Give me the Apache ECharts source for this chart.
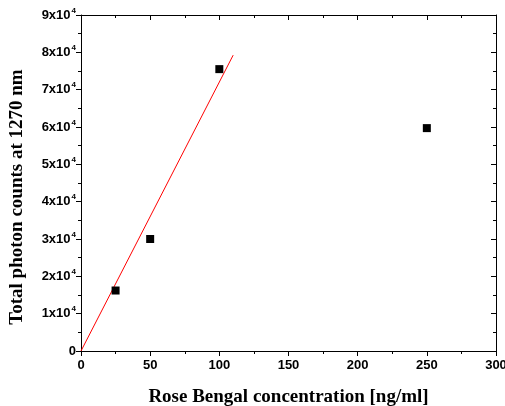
<!DOCTYPE html>
<html>
<head>
<meta charset="utf-8">
<script src="https://cdn.jsdelivr.net/npm/echarts@6/dist/echarts.min.js"></script>
<style>
  html, body { margin: 0; padding: 0; background: #fff; }
  #chart { width: 505px; height: 406px; }
</style>
</head>
<body>
<div id="chart"></div>
<script>
// Measured photon counts versus Rose Bengal concentration
const concentration = [25, 50, 100, 250];
const photonCounts = [16200, 30000, 75500, 59700];

// Linear fit through the origin (end points of the fitted segment)
const fitX = [0, 110];
const fitY = [0, 79240];

// Axis ranges and tick spacing
const xMin = 0, xMax = 300, xStep = 50;
const yMin = 0, yMax = 90000, yStep = 10000;

const xTitle = 'Rose Bengal concentration [ng/ml]';
const yTitle = 'Total photon counts at 1270 nm';

const chart = echarts.init(document.getElementById('chart'), null, { renderer: 'canvas' });

const black = '#000';
const tickFont = { fontFamily: 'Liberation Sans, Arial, sans-serif', fontWeight: 'bold', fontSize: 13, color: black };

function yLabel(v) {
  if (v === 0) return '{b|0}';
  return '{b|' + Math.round(v / 10000) + 'x10}{s|4}';
}

const outer = { show: true, inside: false, length: 5, lineStyle: { color: black, width: 1 } };
const outerMinor = { show: true, splitNumber: 2, length: 3, lineStyle: { color: black, width: 1 } };
const inner = { show: true, inside: true, length: 5, lineStyle: { color: black, width: 1 } };
const innerMinor = { show: true, splitNumber: 2, length: 3, lineStyle: { color: black, width: 1 } };
const axisLine = { show: true, onZero: false, lineStyle: { color: black, width: 1 } };

chart.setOption({
  animation: false,
  backgroundColor: '#fff',
  grid: { left: 81, right: 9, top: 15, bottom: 55, containLabel: false, outerBoundsMode: 'none' },
  xAxis: [
    {
      type: 'value', position: 'bottom', min: xMin, max: xMax, interval: xStep,
      axisLine: axisLine, axisTick: outer, minorTick: outerMinor,
      splitLine: { show: false },
      axisLabel: Object.assign({ margin: 8 }, tickFont),
      name: xTitle, nameLocation: 'middle', nameGap: 37,
      nameTextStyle: { fontFamily: 'Liberation Serif, Times New Roman, serif', fontWeight: 'bold', fontSize: 19, color: black }
    },
    {
      type: 'value', position: 'top', min: xMin, max: xMax, interval: xStep,
      axisLine: axisLine, axisTick: inner, minorTick: innerMinor,
      splitLine: { show: false }, axisLabel: { show: false }
    }
  ],
  yAxis: [
    {
      type: 'value', position: 'left', min: yMin, max: yMax, interval: yStep,
      axisLine: axisLine, axisTick: outer, minorTick: outerMinor,
      splitLine: { show: false },
      axisLabel: {
        margin: 5,
        formatter: yLabel,
        rich: {
          b: tickFont,
          s: { fontFamily: 'Liberation Sans, Arial, sans-serif', fontWeight: 'bold', fontSize: 8, color: black, verticalAlign: 'bottom', padding: [0, 0, 9, 1] }
        }
      }
    },
    {
      type: 'value', position: 'right', min: yMin, max: yMax, interval: yStep,
      axisLine: axisLine, axisTick: inner, minorTick: innerMinor,
      splitLine: { show: false }, axisLabel: { show: false }
    }
  ],
  graphic: [
    {
      type: 'text', x: 17, y: 197, rotation: Math.PI / 2,
      style: {
        text: yTitle, align: 'center', verticalAlign: 'middle',
        font: 'bold 19px "Liberation Serif", "Times New Roman", serif', fill: black
      }
    }
  ],
  series: [
    {
      type: 'line', xAxisIndex: 0, yAxisIndex: 0,
      data: fitX.map((x, i) => [x, fitY[i]]),
      showSymbol: false, symbol: 'none',
      lineStyle: { color: '#ff0000', width: 1 }, z: 2
    },
    {
      type: 'scatter', xAxisIndex: 0, yAxisIndex: 0,
      data: concentration.map((x, i) => [x, photonCounts[i]]),
      symbol: 'rect', symbolSize: 8,
      itemStyle: { color: black, opacity: 1 }, z: 3
    }
  ]
});
</script>
</body>
</html>
